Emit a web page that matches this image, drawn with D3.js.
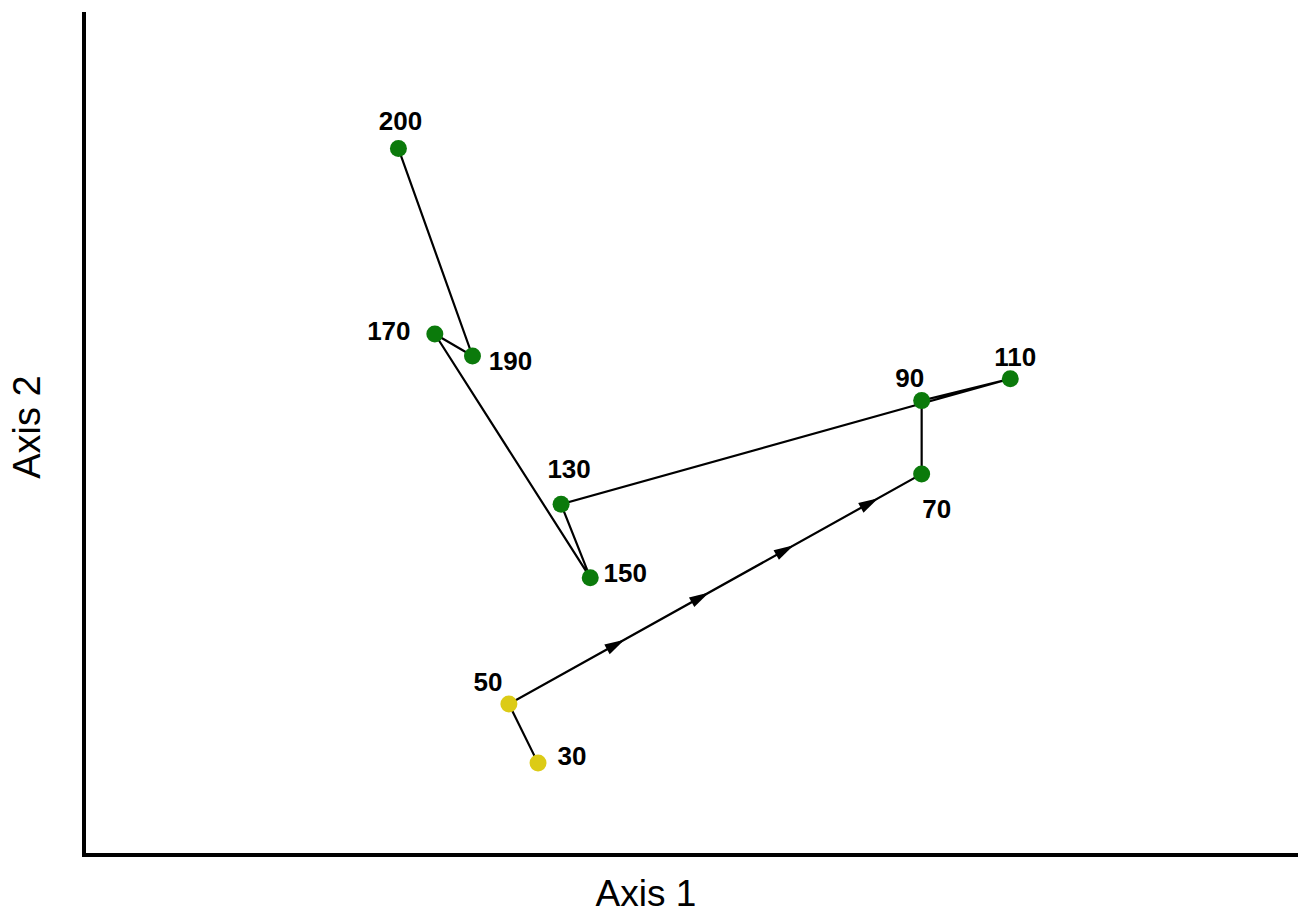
<!DOCTYPE html>
<html>
<head>
<meta charset="utf-8">
<script src="https://cdn.jsdelivr.net/npm/d3@7"></script>
<style>
  body { margin: 0; background: #fff; }
  svg { display: block; }
</style>
</head>
<body>
<svg width="1302" height="914"></svg>
<script>
/// data: sample labels and their ordination scores (axis 1, axis 2)
var labels = ["30", "50", "70", "90", "110", "130", "150", "170", "190", "200"];
var axis1 = [3.74, 3.50, 6.90, 6.90, 7.63, 3.93, 4.17, 2.89, 3.20, 2.59];
var axis2 = [1.09, 1.79, 4.52, 5.39, 5.65, 4.16, 3.29, 6.18, 5.92, 8.38];
var group = ["early", "early", "late", "late", "late", "late", "late", "late", "late", "late"];
// arrows drawn along the 50 -> 70 step, as fractions of that step
var arrowAt = [0.28, 0.485, 0.69, 0.895];

// label placement around each point (dx, dy of text centre)
var labelOff = {
  "30": [34, -7], "50": [-21, -22], "70": [15, 35], "90": [-12, -23],
  "110": [5, -22], "130": [8, -35], "150": [35, -5], "170": [-46, -3],
  "190": [38, 5], "200": [2, -28]
};

var svg = d3.select("svg");
var x = d3.scaleLinear().domain([0, 10]).range([84, 1298]);
var y = d3.scaleLinear().domain([0, 10]).range([855, 12]);
var colour = d3.scaleOrdinal().domain(["early", "late"]).range(["#dccb16", "#0b7a0b"]);

var pts = labels.map(function(l, i) {
  return { label: l, x: x(axis1[i]), y: y(axis2[i]), g: group[i] };
});

/// axes (plain L shape, no ticks)
svg.append("path")
    .attr("d", "M" + x(0) + "," + y(10) + "V" + y(0) + "H" + x(10))
    .attr("fill", "none")
    .attr("stroke", "#000")
    .attr("stroke-width", 4);

svg.append("text")
    .attr("x", 646).attr("y", 906)
    .attr("text-anchor", "middle")
    .style("font-family", "Liberation Sans, Arial, sans-serif")
    .style("font-size", "37px")
    .text("Axis 1");

svg.append("text")
    .attr("transform", "translate(40,427) rotate(-90)")
    .attr("text-anchor", "middle")
    .style("font-family", "Liberation Sans, Arial, sans-serif")
    .style("font-size", "38px")
    .text("Axis 2");

/// trajectory
var line = d3.line().x(function(d) { return d.x; }).y(function(d) { return d.y; });
svg.append("path")
    .datum(pts)
    .attr("d", line)
    .attr("fill", "none")
    .attr("stroke", "#000")
    .attr("stroke-width", 2.2);

// arrows on the 50 -> 70 step
var a = pts[1], b = pts[2];
var ang = Math.atan2(b.y - a.y, b.x - a.x) * 180 / Math.PI;
svg.selectAll("path.arrow")
    .data(arrowAt)
  .enter().append("path")
    .attr("class", "arrow")
    .attr("d", "M0,0L-20,-5.5L-20,5.5Z")
    .attr("fill", "#000")
    .attr("transform", function(t) {
      return "translate(" + (a.x + t * (b.x - a.x)) + "," + (a.y + t * (b.y - a.y)) + ") rotate(" + ang + ")";
    });

/// points
svg.selectAll("circle")
    .data(pts)
  .enter().append("circle")
    .attr("cx", function(d) { return d.x; })
    .attr("cy", function(d) { return d.y; })
    .attr("r", 8.5)
    .style("fill", function(d) { return colour(d.g); });

svg.selectAll("text.lbl")
    .data(pts)
  .enter().append("text")
    .attr("class", "lbl")
    .attr("x", function(d) { return d.x + labelOff[d.label][0]; })
    .attr("y", function(d) { return d.y + labelOff[d.label][1]; })
    .attr("text-anchor", "middle")
    .attr("dominant-baseline", "central")
    .style("font-family", "Liberation Sans, Arial, sans-serif")
    .style("font-weight", "bold")
    .style("font-size", "26px")
    .text(function(d) { return d.label; });
</script>
</body>
</html>
